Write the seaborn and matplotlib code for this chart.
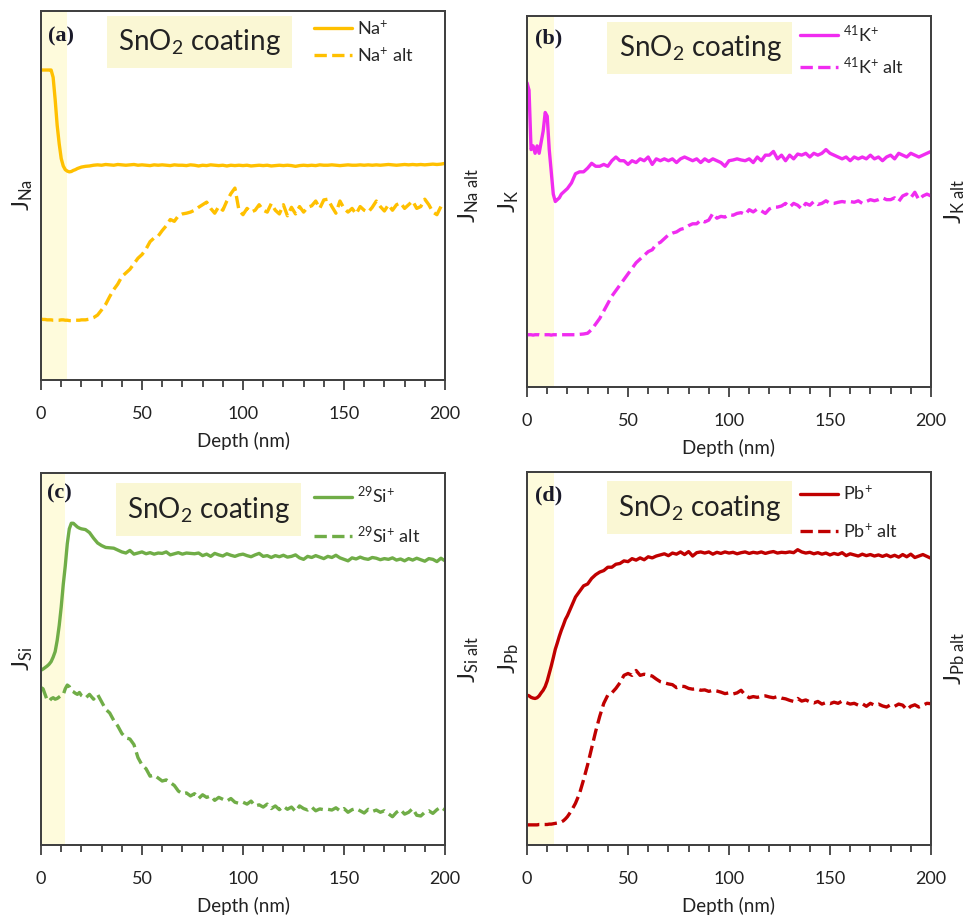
import numpy as np
import seaborn as sns
import matplotlib.pyplot as plt
from matplotlib.ticker import MultipleLocator

# depth grid (nm): 1 nm steps near the surface, 2 nm afterwards
depth = np.concatenate([np.arange(0, 21), np.arange(22, 201, 2)])

# normalised intensities (% of axis height)
na_solid = [84, 84, 84, 84, 84, 84, 82, 76, 69, 64, 60, 58, 57, 56.6, 56.4, 56.5, 56.8, 57, 57.3, 57.5, 57.7,
            57.9, 58.0, 58.2, 58.3, 58.2, 58.4, 58.3, 58.2, 58.4, 58.3,
            58.2, 58.3, 58.4, 58.2, 58.3, 58.2, 58.1, 58.3, 58.2, 58.3,
            58.2, 58.1, 58.3, 58.2, 58.2, 58.1, 58.3, 58.2, 58.0, 58.2,
            58.1, 58.3, 58.2, 58.1, 58.2, 58.0, 58.2, 58.1, 58.2, 58.1,
            58.2, 58.0, 58.1, 58.2, 58.1, 58.2, 58.0, 58.1, 58.2, 58.1,
            58.2, 58.1, 57.9, 58.1, 58.2, 58.1, 58.2, 58.1, 58.3, 58.2,
            58.2, 58.3, 58.2, 58.1, 58.2, 58.3, 58.2, 58.2, 58.3, 58.2,
            58.3, 58.2, 58.3, 58.2, 58.3, 58.4, 58.3, 58.2, 58.3, 58.4,
            58.3, 58.4, 58.3, 58.4, 58.3, 58.4, 58.5, 58.4, 58.5, 58.7]
na_alt = [16.5, 16.4, 16.4, 16.3, 16.3, 16.3, 16.2, 16.2, 16.2, 16.2, 16.3, 16.3, 16.2, 16.2, 16.1, 16.1, 16.1, 16.2, 16.2, 16.2, 16.3,
          16.3, 16.5, 16.9, 17.6, 19.0, 20.5, 22.6, 24.5, 26.0, 28.0,
          29.0, 30.0, 31.5, 33.0, 34.0, 35.5, 37.5, 38.5, 39.0, 40.5,
          41.8, 43.5, 43.0, 44.5, 45.0, 45.2, 45.5, 46.0, 46.8, 47.5,
          48.2, 46.5, 45.2, 47.0, 46.0, 48.5, 50.5, 52.0, 46.0, 44.8,
          46.5, 45.5, 46.0, 47.5, 46.0, 45.5, 47.8, 46.0, 45.0, 47.5,
          44.5, 46.8, 45.0, 47.0, 45.5, 46.8, 47.2, 48.5, 46.5, 48.8,
          49.0, 47.0, 45.2, 48.5, 46.5, 45.5, 46.5, 45.0, 47.0, 46.0,
          45.5, 46.8, 48.5, 47.0, 45.8, 47.5, 46.0, 47.5, 48.0, 46.5,
          47.5, 48.5, 46.5, 47.0, 49.0, 47.5, 45.5, 44.8, 47.0, 47.5]

k_solid = [82, 80, 64, 65, 63, 65, 63, 66, 69, 74, 73, 64, 58, 52, 50, 50.5, 51, 52, 52.5, 53, 53.5,
           55, 57.5, 58, 58, 59, 60.3, 59.5, 59.5, 60, 59.5,
           61, 62, 61, 61, 60, 61, 60.5, 61.5, 61, 62,
           60, 61.5, 61, 61.5, 61, 61.5, 60.5, 61.5, 62, 61.5,
           61, 61.5, 60.5, 61.5, 60.8, 61.5, 61, 60.5, 59.5, 61,
           61.2, 61.5, 61.2, 61, 61.5, 60.5, 62, 61, 62.5, 62.5,
           63.5, 61.5, 62.5, 61, 62.5, 61.5, 62.8, 62.5, 63, 62,
           63, 62.5, 63, 64, 63, 62.5, 62, 61.5, 62, 61,
           62, 61.5, 62, 61.5, 62.5, 61.5, 62, 61, 62, 62.5,
           61.5, 63, 62.5, 62, 63, 62.5, 62, 62.5, 63, 63.5]
k_alt = [14.1, 14.1, 14.1, 14.0, 14.1, 14.1, 14.1, 14.0, 14.1, 14.1, 14.1, 14.1, 14.0, 14.1, 14.1, 14.1, 14.0, 14.1, 14.1, 14.1, 14.1,
         14.1, 14.1, 14.2, 14.3, 14.5, 15.5, 17.0, 18.5, 20.5, 22.5,
         24.5, 26.0, 27.5, 29.0, 30.5, 32.0, 33.5, 34.5, 35.5, 36.5,
         37.0, 38.5, 39.0, 40.0, 41.0, 41.5, 41.8, 42.5, 42.8, 43.5,
         44.0, 44.0, 45.0, 44.5, 45.0, 46.8, 45.5, 46.0, 45.8, 46.5,
         46.3, 46.8, 47.0, 46.5, 47.8, 47.2, 48.0, 47.5, 46.8, 48.0,
         48.5, 48.5, 48.8, 49.5, 48.5, 49.5, 49.0, 48.0, 49.5, 49.0,
         50.0, 49.2, 49.5, 50.2, 49.5, 49.5, 49.8, 50.0, 49.8, 50.0,
         49.8, 50.2, 49.5, 50.0, 50.5, 50.2, 50.5, 51.0, 50.5, 50.5,
         51.0, 50.0, 51.5, 52.0, 51.0, 52.5, 50.5, 51.5, 52.0, 51.5]

si_solid = [47.0, 47.3, 47.7, 48.1, 48.6, 49.3, 50.5, 52.0, 55.0, 59.0, 64.0, 70.0, 75.0, 81.0, 85.0, 86.5, 86.5, 86.0, 85.5, 85.2, 85.0,
            84.8, 84.0, 82.5, 81.2, 80.5, 80.0, 79.9, 79.8, 79.3, 78.8,
            78.5, 79.2, 78.2, 78.5, 78.8, 78.3, 78.6, 78.2, 78.5, 78.4,
            78.8, 78.0, 78.3, 78.6, 78.2, 78.5, 78.4, 78.3, 78.5, 77.8,
            78.2, 77.6, 78.4, 78.0, 77.7, 78.3, 77.9, 77.6, 78.0, 78.2,
            77.8, 77.5, 78.0, 78.4, 77.6, 77.8, 77.3, 77.8, 77.5, 77.9,
            77.4, 77.6, 78.0, 77.2, 76.8, 77.6, 77.3, 77.8, 77.4, 77.0,
            77.6, 77.3, 77.9, 77.2, 76.8, 76.4, 77.2, 76.9, 77.4, 77.0,
            76.8, 77.3, 77.1, 76.7, 77.0, 76.8, 77.2, 76.6, 76.9, 76.4,
            77.0, 76.6, 77.1, 76.7, 76.3, 77.0, 76.8, 76.2, 77.1, 76.4]
si_alt = [42.3, 42.0, 40.5, 39.0, 38.7, 39.3, 39.6, 39.2, 39.4, 39.8, 40.2, 40.4, 42.0, 43.0, 42.6, 41.5, 41.2, 40.8, 40.5, 41.0, 40.2,
          39.5, 40.5, 39.2, 40.5, 38.5, 36.5, 35.5, 33.5, 32.0, 30.0,
          28.8, 28.5, 27.0, 23.5, 21.5, 20.5, 18.5, 18.8, 18.0, 17.2,
          17.5, 16.8, 16.0, 14.5, 13.8, 14.0, 13.2, 13.8, 12.5, 13.5,
          12.8, 13.2, 12.0, 12.8, 12.3, 11.8, 12.5, 11.5, 11.2, 11.5,
          11.0, 11.8, 10.5, 10.8, 10.2, 11.0, 9.8, 10.5, 9.5, 10.4,
          9.6, 10.2, 9.0, 10.5, 9.8, 9.4, 10.2, 9.2, 9.7, 9.5,
          9.6, 9.4, 10.0, 9.2, 9.8, 8.8, 9.5, 9.8, 9.2, 8.6,
          9.6, 9.0, 9.4, 8.8, 9.2, 8.4, 7.6, 8.8, 9.5, 8.3,
          8.8, 9.8, 8.0, 7.8, 8.8, 9.2, 8.5, 9.5, 10.2, 9.4]

pb_solid = [40.2, 40.0, 39.6, 39.4, 39.3, 39.5, 40.0, 40.8, 41.5, 42.5, 44.0, 46.0, 48.0, 50.2, 52.5, 54.2, 56.0, 57.6, 59.0, 60.5, 61.5,
            64.0, 66.5, 68.0, 69.5, 70.0, 71.5, 72.5, 73.2, 73.6, 74.5,
            74.5, 75.3, 75.5, 76.2, 76.0, 76.8, 76.4, 77.0, 76.5, 77.3,
            77.0, 77.5, 77.8, 78.1, 77.6, 78.3, 78.0, 78.6, 77.9, 78.7,
            77.5, 78.4, 78.6, 78.3, 78.6, 78.0, 78.5, 78.2, 78.6, 78.3,
            78.5, 78.1, 78.4, 78.6, 78.2, 78.5, 78.3, 78.6, 78.2, 78.5,
            78.7, 78.3, 78.5, 78.4, 78.6, 78.4, 79.2, 78.6, 78.3, 78.5,
            78.1, 78.4, 78.0, 78.3, 77.8, 78.2, 77.9, 78.4, 77.6, 78.1,
            77.8, 77.5, 78.0, 77.6, 77.9, 77.5, 77.8, 77.4, 77.8, 77.3,
            77.7, 77.2, 77.9, 77.3, 78.0, 77.1, 77.5, 77.9, 77.4, 76.9]
pb_alt = [5.4, 5.4, 5.4, 5.4, 5.4, 5.4, 5.5, 5.5, 5.5, 5.5, 5.5, 5.6, 5.6, 5.7, 5.8, 5.9, 6.0, 6.2, 6.5, 7.0, 7.6,
          9.2, 11.2, 13.8, 17.5, 21.5, 26.0, 30.5, 34.5, 38.0, 40.2,
          40.8, 42.0, 43.5, 45.5, 46.0, 45.5, 46.8, 45.5, 45.8, 45.6,
          45.3, 44.5, 43.8, 43.5, 43.2, 43.0, 42.2, 42.6, 42.5, 42.0,
          41.8, 41.9, 41.5, 41.6, 41.2, 41.5, 41.3, 41.0, 40.6, 40.8,
          40.5, 40.8, 41.5, 40.2, 39.5, 39.8, 39.6, 39.9, 40.0, 39.7,
          39.5, 39.8, 39.4, 39.2, 38.8, 38.5, 39.3, 38.6, 38.9, 38.4,
          38.1, 38.5, 37.8, 38.2, 37.9, 38.3, 38.0, 38.6, 38.2, 37.8,
          38.0, 37.5, 37.9, 37.2, 38.0, 37.5, 37.8, 37.3, 37.0, 37.6,
          37.2, 37.8, 37.5, 36.3, 37.2, 37.6, 37.0, 37.5, 38.0, 37.9]

tags = ['(a)', '(b)', '(c)', '(d)']
elements = ['Na', 'K', 'Si', 'Pb']
ion_labels = [r'Na$^{+}$', r'$^{41}$K$^{+}$', r'$^{29}$Si$^{+}$', r'Pb$^{+}$']
colors = ['#FFC000', '#F02CF0', '#70AD47', '#C00000']
solid_series = [na_solid, k_solid, si_solid, pb_solid]
alt_series = [na_alt, k_alt, si_alt, pb_alt]
coating_edge = [12.7, 13.4, 12.0, 13.4]

# layout (figure fractions / axes fractions)
rects = [[0.0422, 0.5847, 0.4156, 0.4033], [0.5422, 0.5770, 0.4156, 0.4055],
         [0.0422, 0.0765, 0.4156, 0.4065], [0.5422, 0.0765, 0.4156, 0.4075]]
box_xy = [(0.393, 0.916), (0.428, 0.914), (0.415, 0.902), (0.426, 0.905)]
tag_xy = [(0.018, 0.930), (0.020, 0.940), (0.015, 0.946), (0.020, 0.938)]
leg_y = [0.978, 0.980, 0.967, 0.967]
leg_space = [0.45, 0.6, 1.0, 1.05]

sns.set_theme(style='ticks')
plt.rcParams['font.family'] = ['Lato', 'DejaVu Sans']
plt.rcParams['mathtext.fontset'] = 'custom'
plt.rcParams['mathtext.rm'] = 'Lato'
plt.rcParams['mathtext.it'] = 'Lato:italic'
plt.rcParams['mathtext.bf'] = 'Lato:bold'

spine_col = '#404040'
shade_col = '#FEFBDC'
box_col = '#FAF7D4'

fig = plt.figure(figsize=(9.72, 9.15), dpi=100)

for i in range(4):
    ax = fig.add_axes(rects[i])
    ax.axvspan(0, coating_edge[i], color=shade_col, lw=0, zorder=0)
    sns.lineplot(x=depth, y=solid_series[i], ax=ax, color=colors[i], lw=2.4, legend=False)
    ax2 = ax.twinx()
    sns.lineplot(x=depth, y=alt_series[i], ax=ax2, color=colors[i], lw=2.4, linestyle='--', legend=False)

    for a in (ax, ax2):
        a.set_xlim(0, 200)
        a.set_ylim(0, 100)
        for s in a.spines.values():
            s.set_visible(True)
            s.set_color(spine_col)
            s.set_linewidth(1.3)

    ax.xaxis.set_major_locator(MultipleLocator(50))
    ax.xaxis.set_minor_locator(MultipleLocator(10))
    ax.tick_params(axis='x', which='major', bottom=True, direction='out', length=7, width=1.3,
                   color=spine_col, pad=12, labelsize=13, labelcolor='#222222')
    ax.tick_params(axis='x', which='minor', bottom=True, direction='out', length=5, width=1.3, color=spine_col)
    ax.tick_params(axis='y', left=False, labelleft=False)
    ax2.tick_params(axis='y', right=False, labelright=False)

    ax.set_xlabel('Depth (nm)', fontsize=13.5, labelpad=7, color='#222222')
    ax.set_ylabel('J$_{\\rm ' + elements[i] + '}$', fontsize=17, labelpad=4, color='#222222')
    ax2.set_ylabel('J$_{\\rm ' + elements[i] + '\\ alt}$', fontsize=17, labelpad=8, color='#222222')

    ax2.text(box_xy[i][0], box_xy[i][1], 'SnO$_2$ coating', transform=ax.transAxes,
             ha='center', va='center', fontsize=20, color='#222222',
             bbox=dict(boxstyle='square,pad=0.4', fc=box_col, ec='none'))
    ax2.text(tag_xy[i][0], tag_xy[i][1], tags[i], transform=ax.transAxes, ha='left', va='center',
             fontsize=16, fontweight='bold', family='Liberation Serif', color='#1a1a2a')

    h1 = ax.get_lines()[0]
    h2 = ax2.get_lines()[0]
    ax2.legend([h1, h2], [ion_labels[i], ion_labels[i] + ' alt'], loc='upper left',
               bbox_to_anchor=(0.675, leg_y[i]), frameon=False, fontsize=13,
               handlelength=2.1, handletextpad=0.3, borderaxespad=0, borderpad=0,
               labelspacing=leg_space[i])

fig.savefig('out.png', dpi=100)
